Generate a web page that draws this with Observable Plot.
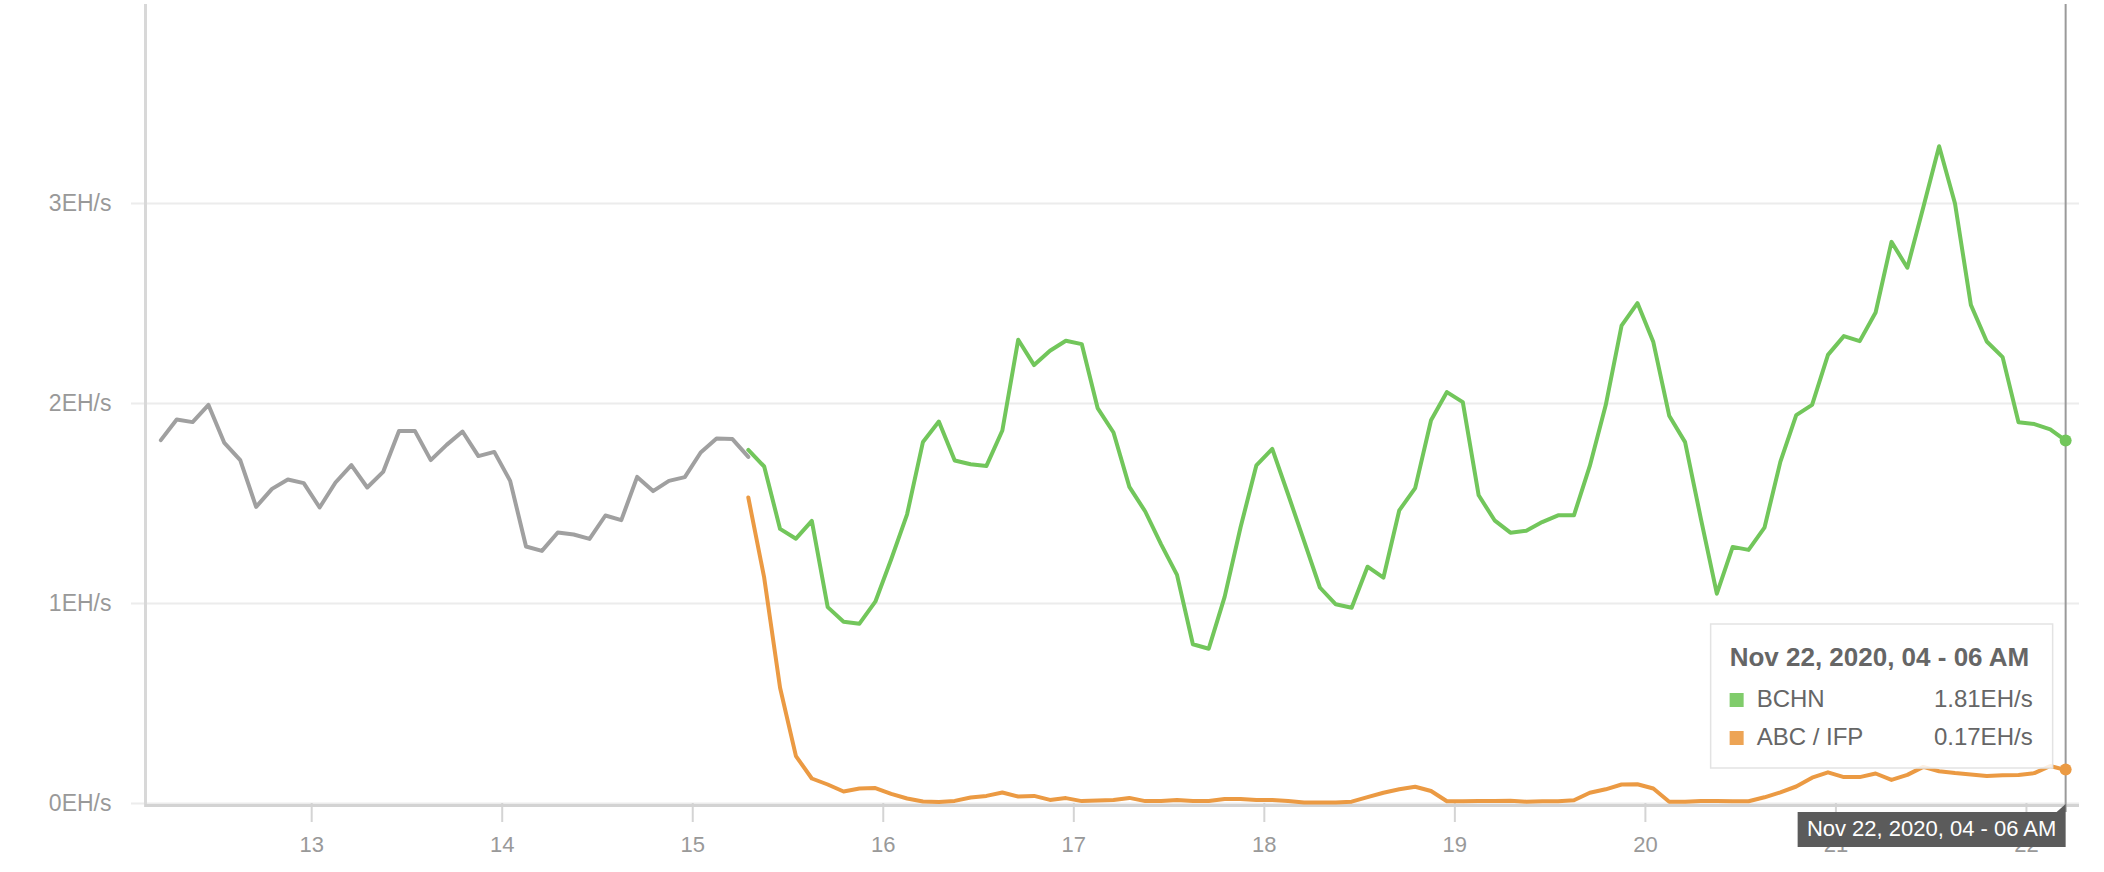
<!DOCTYPE html>
<html>
<head>
<meta charset="utf-8">
<script src="https://cdn.jsdelivr.net/npm/d3@7"></script>
<script src="https://cdn.jsdelivr.net/npm/@observablehq/plot@0.6"></script>
<style>
  html, body { margin: 0; padding: 0; background: #fff; overflow: hidden; }
  #chart svg { display: block; }
</style>
</head>
<body>
<div id="chart"></div>
<script>
// ---- data (2-hour buckets, points at bucket midpoints, Nov 12 05:00 → Nov 22 05:00) ----
const times = d3.range(121).map(i => new Date(2020, 10, 12, 5 + 2 * i));

// pre-fork BCH (index 0..37)
const preForkValues = [1.817,1.92,1.907,1.993,1.803,1.717,1.483,1.573,1.62,1.602,
  1.48,1.605,1.692,1.58,1.658,1.862,1.863,1.717,1.793,1.86,
  1.737,1.758,1.613,1.285,1.263,1.355,1.345,1.323,1.44,1.417,
  1.633,1.562,1.613,1.632,1.755,1.825,1.822,1.733];

// BCHN (index 37..120)
const bchnValues = [1.768,1.685,1.373,1.324,1.413,0.982,0.909,0.899,1.009,1.221,
  1.446,1.808,1.91,1.715,1.696,1.688,1.865,2.319,2.192,2.264,
  2.314,2.297,1.977,1.855,1.583,1.46,1.296,1.143,0.796,0.774,
  1.033,1.38,
  1.691,1.773,1.545,1.313,1.080,0.996,0.979,1.184,1.129,1.466,
  1.577,1.916,2.057,2.007,1.541,1.416,1.354,1.364,1.407,1.441,
  1.441,1.688,1.991,2.389,2.502,2.307,1.939,1.807,
  1.422,1.049,1.283,1.268,1.379,1.708,1.942,1.993,2.243,2.337,
  2.312,2.455,2.808,2.679,2.98,3.286,3.0,2.493,2.31,2.232,
  1.906,1.897,1.871,1.813];

// ABC / IFP (index 37..120)
const abcValues = [1.53,1.129,0.579,0.237,0.125,0.095,0.06,0.075,0.077,0.048,
  0.025,0.01,0.008,0.013,0.03,0.038,0.055,0.035,0.038,0.018,
  0.027,0.012,0.015,0.017,0.028,0.012,0.013,0.018,0.013,0.012,
  0.023,0.023,
  0.018,0.018,0.0125,0.005,0.005,0.005,0.009,0.032,0.054,0.071,
  0.084,0.0625,0.011,0.011,0.0125,0.0125,0.014,0.009,0.011,0.011,
  0.016,0.054,0.071,0.095,0.096,0.075,0.009,0.009,
  0.013,0.013,0.011,0.011,0.031,0.056,0.085,0.129,0.156,0.132,
  0.132,0.15,0.118,0.143,0.183,0.161,0.152,0.145,0.138,0.141,
  0.143,0.152,0.1875,0.167];

const forkIndex = 37;
const seriesNames = ["BCHN", "ABC / IFP"];
const seriesColors = ["#72c65b", "#eb9a43"];
const preForkColor = "#a0a0a0";
const yTicks = [0, 1, 2, 3];
const xTickDays = [13, 14, 15, 16, 17, 18, 19, 20, 21, 22];
const tooltipTitle = "Nov 22, 2020, 04 - 06 AM";
const unit = "EH/s";

// ---- tables ----
const preFork = preForkValues.map((v, i) => ({t: times[i], v}));
const bchn = bchnValues.map((v, i) => ({t: times[forkIndex + i], v}));
const abc = abcValues.map((v, i) => ({t: times[forkIndex + i], v}));
const lastT = times[times.length - 1];
const lastB = bchn[bchn.length - 1];
const lastA = abc[abc.length - 1];
const tickDates = xTickDays.map(d => new Date(2020, 10, d));

const FONT = "'Liberation Sans', Arial, Helvetica, sans-serif";

const plot = Plot.plot({
  width: 2104,
  height: 872,
  marginLeft: 145,
  marginRight: 25,
  marginTop: 3,
  marginBottom: 69,
  style: {fontFamily: FONT, background: "#fff", overflow: "visible"},
  x: {type: "time", domain: [new Date(2020, 10, 12, 3, 4), new Date(2020, 10, 22, 6, 41)]},
  y: {domain: [0, 4]},
  marks: [
    Plot.ruleY(yTicks, {stroke: "#ececec", strokeWidth: 2, insetLeft: -14}),
    Plot.axisY({ticks: yTicks, tickSize: 0, tickPadding: 34, tickFormat: d => d + unit,
      fontSize: 23, color: "#999", label: null}),
    Plot.ruleX(tickDates, {y1: 0, y2: -0.095, stroke: "#d4d4d4", strokeWidth: 2}),
    Plot.axisX({ticks: tickDates, tickSize: 0, tickPadding: 33, tickFormat: d => String(d.getDate()),
      fontSize: 22, color: "#999", label: null}),
    Plot.ruleX([new Date(2020, 10, 12, 3, 4)], {y1: 3.995, y2: 0, stroke: "#d8d8d8", strokeWidth: 3, insetBottom: -4}),
    Plot.ruleY([0], {stroke: "#d3d3d3", strokeWidth: 3, dy: 2}),
    Plot.line(preFork, {x: "t", y: "v", stroke: preForkColor, strokeWidth: 4}),
    Plot.line(bchn, {x: "t", y: "v", stroke: seriesColors[0], strokeWidth: 4}),
    Plot.line(abc, {x: "t", y: "v", stroke: seriesColors[1], strokeWidth: 4})
  ]
});

document.getElementById("chart").appendChild(plot);

// ---- hover overlay (tooltip, cursor line, dots, date label) ----
const xs = plot.scale("x");
const ys = plot.scale("y");
const cx = xs.apply(lastT);
const svg = d3.select(plot);
const g = svg.append("g").attr("font-family", FONT).attr("text-anchor", "start");

// tooltip box
const boxRight = cx - 13, boxW = 342, boxTop = 624, boxH = 144;
const boxLeft = boxRight - boxW;
g.append("rect").attr("x", boxLeft).attr("y", boxTop).attr("width", boxW).attr("height", boxH)
  .attr("fill", "rgba(255,255,255,0.85)").attr("stroke", "#e3e3e3").attr("stroke-width", 1.5);
g.append("text").attr("x", boxLeft + 19).attr("y", boxTop + 42).attr("fill", "#666")
  .attr("text-anchor", "start")
  .attr("font-size", 26).attr("font-weight", "bold").text(tooltipTitle);
const rows = [[seriesNames[0], seriesColors[0], lastB.v], [seriesNames[1], seriesColors[1], lastA.v]];
rows.forEach(([name, color, v], k) => {
  const base = boxTop + 83 + k * 38;
  g.append("rect").attr("x", boxLeft + 19).attr("y", base - 14).attr("width", 14).attr("height", 14)
    .attr("fill", color).attr("opacity", 0.9);
  g.append("text").attr("x", boxLeft + 46).attr("y", base).attr("fill", "#666")
    .attr("text-anchor", "start").attr("font-size", 24).text(name);
  g.append("text").attr("x", boxRight - 20).attr("y", base).attr("fill", "#666")
    .attr("font-size", 24).attr("text-anchor", "end").text(v.toFixed(2) + unit);
});

// cursor line
g.append("line").attr("x1", cx).attr("x2", cx).attr("y1", ys.apply(3.995)).attr("y2", 812)
  .attr("stroke", "#9a9a9a").attr("stroke-width", 2);

// dots
g.append("circle").attr("cx", cx).attr("cy", ys.apply(lastB.v)).attr("r", 6).attr("fill", seriesColors[0]);
g.append("circle").attr("cx", cx).attr("cy", ys.apply(lastA.v)).attr("r", 6).attr("fill", seriesColors[1]);

// bottom date label
const lblW = 268, lblTop = 812, lblH = 35;
g.append("path").attr("d", `M${cx - 9},${lblTop} L${cx},${lblTop - 8} L${cx},${lblTop} Z`).attr("fill", "#5b5b5b");
g.append("rect").attr("x", cx - lblW).attr("y", lblTop).attr("width", lblW).attr("height", lblH).attr("fill", "#5b5b5b");
g.append("text").attr("x", cx - lblW / 2).attr("y", lblTop + 24).attr("fill", "#fff")
  .attr("font-size", 22).attr("text-anchor", "middle").text(tooltipTitle);
</script>
</body>
</html>
